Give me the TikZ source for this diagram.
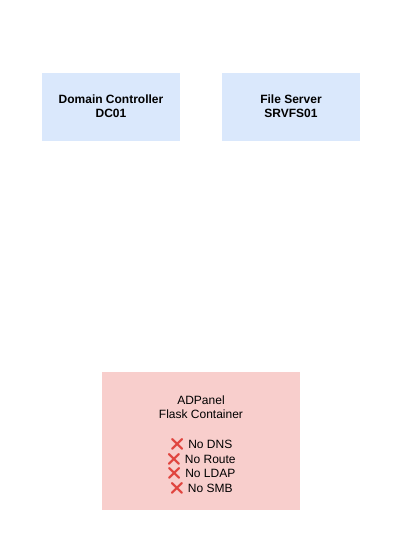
\documentclass[tikz,border=0pt]{standalone}
\usepackage{fontspec}
\setmainfont{Liberation Sans}
\newfontfamily\emojifont{Noto Emoji}
\definecolor{blueFill}{HTML}{DAE8FC}
\definecolor{redFill}{HTML}{F8CECC}
\definecolor{crossRed}{HTML}{E0443E}
\newcommand{\xmark}{{\emojifont\color{crossRed}\char"274C}}
\begin{document}
\begin{tikzpicture}[x=1pt,y=-1pt,
  server/.style={fill=blueFill, draw=none, minimum width=138pt, minimum height=68pt,
    align=center, font=\fontsize{12}{14.4}\selectfont\bfseries, inner sep=0pt},
  panel/.style={fill=redFill, draw=none, minimum width=198pt, minimum height=138pt, inner sep=0pt},
  paneltext/.style={align=center, font=\fontsize{12}{14.4}\selectfont, inner sep=0pt}]
\useasboundingbox (0,0) rectangle (402,542);
\node[server] (dc) at (111,106.5) {Domain Controller\\DC01};
\node[server] (fs) at (291,106.5) {File Server\\SRVFS01};
\node[panel] (ad) at (201,441) {};
\node[paneltext] (adtext) at (201,445) {ADPanel\\Flask Container\\[15pt]\xmark{} No DNS\\[0.3pt]\xmark{} No Route\\[0.3pt]\xmark{} No LDAP\\[0.3pt]\xmark{} No SMB};
\end{tikzpicture}
\end{document}
